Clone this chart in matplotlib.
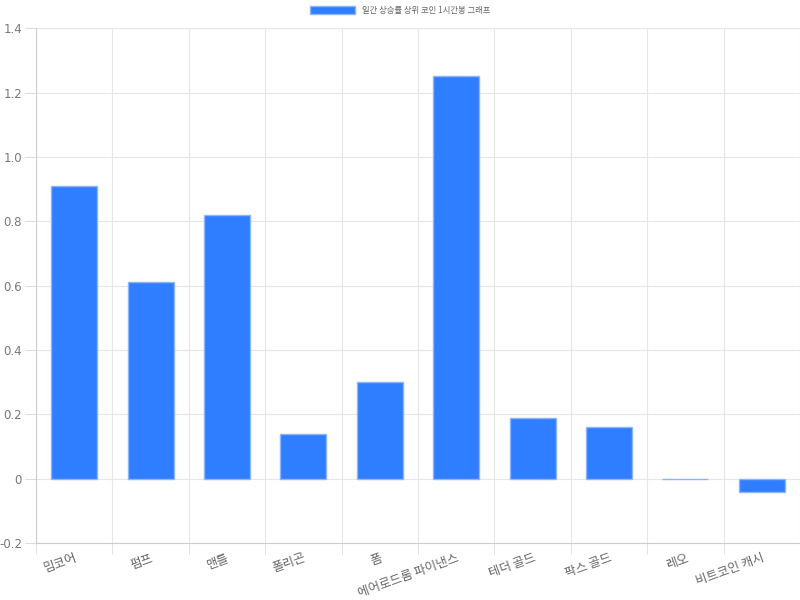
import matplotlib
matplotlib.use("Agg")
import matplotlib.pyplot as plt
from matplotlib.patches import Patch
import numpy as np

plt.rcParams['font.family'] = ['Noto Sans CJK KR', 'DejaVu Sans']

categories = ["밈코어", "펌프", "맨틀", "폴리곤", "폼", "에어로드롬 파이낸스",
              "테더 골드", "팍스 골드", "레오", "비트코인 캐시"]
values = [0.91, 0.61, 0.82, 0.14, 0.30, 1.25, 0.19, 0.16, 0.0, -0.04]
series_label = "일간 상승률 상위 코인 1시간봉 그래프"
yticks = [-0.2, 0, 0.2, 0.4, 0.6, 0.8, 1.0, 1.2, 1.4]
ytick_labels = ["-0.2", "0", "0.2", "0.4", "0.6", "0.8", "1.0", "1.2", "1.4"]

fill = "#2f7eff"
edge = "#8db5ff"

fig = plt.figure(figsize=(8, 6), dpi=100)
ax = fig.add_axes([0.045, 0.095, 0.955, 0.858])

x = np.arange(len(categories))
ax.bar(x, values, width=0.6, color=fill, edgecolor=edge, linewidth=1.0, zorder=3)

ax.set_xlim(-0.5, len(categories) - 0.5)
ax.set_ylim(-0.2, 1.4)
ax.set_yticks(yticks)
ax.set_yticklabels(ytick_labels, fontsize=8.5, color="#777777", family=['DejaVu Sans'])

# category boundary gridlines
bounds = np.arange(-0.5, len(categories) + 0.5, 1.0)
ax.set_xticks(bounds, minor=True)
ax.set_xticks(x)
ax.set_xticklabels(categories, rotation=20, ha='right', rotation_mode='anchor',
                   fontsize=9, color="#666666")
ax.tick_params(axis='x', which='major', length=0, pad=6)
ax.tick_params(axis='x', which='minor', length=8, color="#dddddd")
ax.tick_params(axis='y', length=8, color="#dddddd", pad=2)
ax.grid(True, which='minor', axis='x', color="#e6e6e6", linewidth=0.8, zorder=0)
ax.grid(True, which='major', axis='y', color="#e6e6e6", linewidth=0.8, zorder=0)

for s in ['top', 'right']:
    ax.spines[s].set_visible(False)
for s in ['left', 'bottom']:
    ax.spines[s].set_color("#cccccc")
    ax.spines[s].set_linewidth(0.8)

handle = Patch(facecolor=fill, edgecolor=edge, label=series_label)
fig.legend(handles=[handle], loc='upper center', bbox_to_anchor=(0.5, 1.0),
           frameon=False, fontsize=6, handlelength=5.5, handleheight=1.2,
           labelcolor="#666666", borderaxespad=0.3)

fig.savefig("out.png", dpi=100)
